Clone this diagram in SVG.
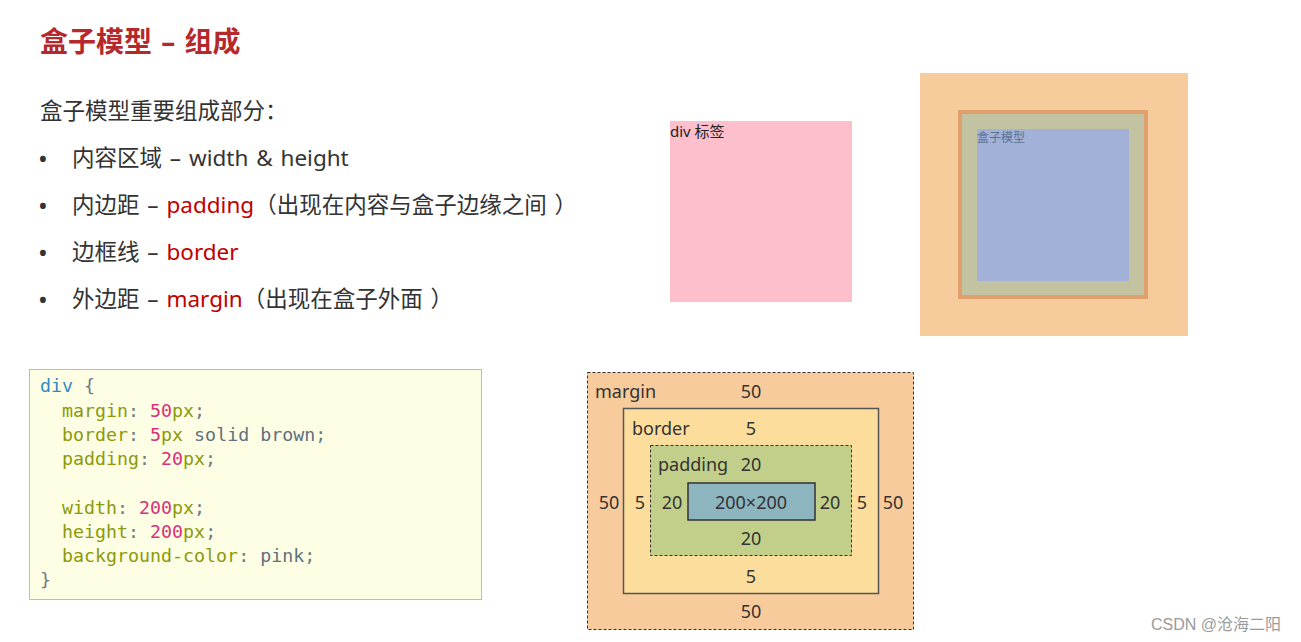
<svg xmlns="http://www.w3.org/2000/svg" width="1301" height="642" viewBox="0 0 1301 642">
<style>
.cn{font-family:"Noto Sans","Noto Sans CJK SC",sans-serif}
.t{font-size:22.5px;fill:#333}
.red{fill:#c00000}
.code{font-family:"DejaVu Sans Mono","Liberation Mono",monospace;font-size:18.3px}
.sel{fill:#2f8ac4}.pun{fill:#6b7a85}.prop{fill:#8a9a0a}.num{fill:#d9307b}.val{fill:#5f7080}
.bm{font-family:"Noto Sans","Open Sans",sans-serif;font-size:18px;fill:#333}
</style>
<rect width="1301" height="642" fill="#fff"/>
<g id="title"><text class="cn" x="40" y="52" font-size="28" font-weight="bold" fill="#b5282b" word-spacing="2">盒子模型 – 组成</text></g>
<g id="list" class="cn t">
<text x="40" y="119">盒子模型重要组成部分：</text>
<g font-size="26"><text x="38" y="168">•</text><text x="38" y="215">•</text><text x="38" y="262">•</text><text x="38" y="309">•</text></g>
<g word-spacing="2">
<text x="72" y="166">内容区域 – width &amp; height</text>
<text x="72" y="213">内边距 – <tspan class="red">padding</tspan>（出现在内容与盒子边缘之间 ）</text>
<text x="72" y="260">边框线 – <tspan class="red">border</tspan></text>
<text x="72" y="307">外边距 – <tspan class="red">margin</tspan>（出现在盒子外面 ）</text>
</g>
</g>
<g id="pink-div">
<rect x="670" y="121" width="182" height="181" fill="#fdbfcb"/>
<text class="cn" x="670" y="137" font-size="15" fill="#222">div 标签</text>
</g>
<g id="browser-box">
<rect x="920" y="73" width="268" height="263" fill="#f7cc9d"/>
<rect x="960" y="112" width="186" height="185" fill="#c4c3a1" stroke="#e0a06e" stroke-width="4"/>
<rect x="977" y="129" width="152" height="152" fill="#a1b1d8"/>
<text class="cn" x="977" y="142" font-size="12" fill="#5e7390">盒子模型</text>
</g>
<g id="code">
<rect x="29.5" y="369.5" width="452" height="230" fill="#fefee4" stroke="#bdbdb0"/>
<text class="code" x="40" y="392"><tspan class="sel">div</tspan><tspan class="pun"> {</tspan></text>
<text class="code" x="40" y="417" xml:space="preserve"><tspan class="prop">  margin</tspan><tspan class="pun">: </tspan><tspan class="num">50</tspan><tspan class="prop">px</tspan><tspan class="pun">;</tspan></text>
<text class="code" x="40" y="441" xml:space="preserve"><tspan class="prop">  border</tspan><tspan class="pun">: </tspan><tspan class="num">5</tspan><tspan class="prop">px</tspan><tspan class="val"> solid brown</tspan><tspan class="pun">;</tspan></text>
<text class="code" x="40" y="465" xml:space="preserve"><tspan class="prop">  padding</tspan><tspan class="pun">: </tspan><tspan class="num">20</tspan><tspan class="prop">px</tspan><tspan class="pun">;</tspan></text>
<text class="code" x="40" y="514" xml:space="preserve"><tspan class="prop">  width</tspan><tspan class="pun">: </tspan><tspan class="num">200</tspan><tspan class="prop">px</tspan><tspan class="pun">;</tspan></text>
<text class="code" x="40" y="538" xml:space="preserve"><tspan class="prop">  height</tspan><tspan class="pun">: </tspan><tspan class="num">200</tspan><tspan class="prop">px</tspan><tspan class="pun">;</tspan></text>
<text class="code" x="40" y="562" xml:space="preserve"><tspan class="prop">  background-color</tspan><tspan class="pun">: </tspan><tspan class="val">pink</tspan><tspan class="pun">;</tspan></text>
<text class="code" x="40" y="586"><tspan class="pun">}</tspan></text>
</g>
<g id="box-model">
<rect x="587.5" y="372.5" width="326" height="257" fill="#f8cb9c" stroke="#333" stroke-dasharray="3,2"/>
<rect x="623.5" y="408.5" width="255" height="185" fill="#fddd9c" stroke="#555" stroke-width="1.5"/>
<rect x="650.5" y="445.5" width="201" height="110" fill="#c2cf8b" stroke="#333" stroke-dasharray="3,2"/>
<rect x="688" y="483" width="127" height="37" fill="#8cb5c0" stroke="#333" stroke-width="1.5"/>
<g class="bm">
<text x="595" y="398">margin</text>
<text x="632" y="435">border</text>
<text x="658" y="471">padding</text>
<g text-anchor="middle">
<text x="751" y="398">50</text>
<text x="751" y="435">5</text>
<text x="751" y="471">20</text>
<text x="751" y="509">200×200</text>
<text x="609" y="509">50</text>
<text x="640" y="509">5</text>
<text x="672" y="509">20</text>
<text x="830" y="509">20</text>
<text x="862" y="509">5</text>
<text x="893" y="509">50</text>
<text x="751" y="545">20</text>
<text x="751" y="583">5</text>
<text x="751" y="618">50</text>
</g>
</g>
</g>
<g id="watermark"><text x="1151" y="630" font-family="Liberation Sans,Noto Sans CJK SC,sans-serif" font-size="16" fill="#9a9a9a">CSDN @沧海二阳</text></g>
</svg>
